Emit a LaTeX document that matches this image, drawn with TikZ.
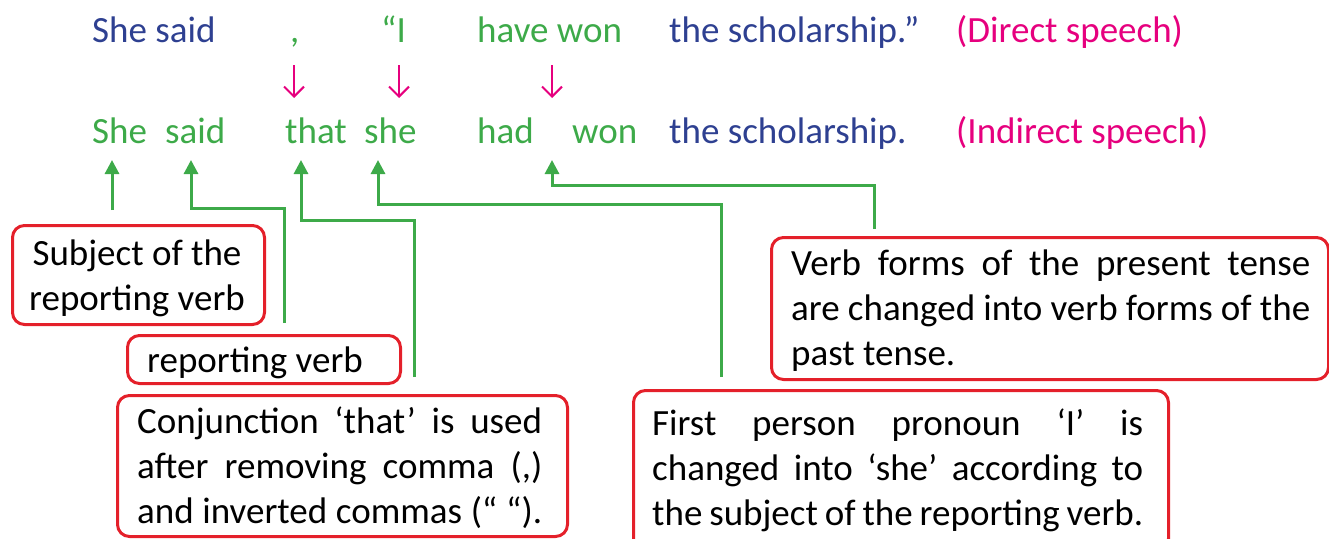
\documentclass[tikz,border=0pt]{standalone}
\usepackage{fontspec}
\setmainfont{Carlito}
\usetikzlibrary{arrows.meta}
\definecolor{dblue}{RGB}{46,64,145}
\definecolor{wgreen}{RGB}{61,170,73}
\definecolor{mpink}{RGB}{230,0,126}
\definecolor{bred}{RGB}{228,32,42}
\begin{document}
\begin{tikzpicture}[x=1pt,y=-1pt,
  font=\fontsize{37}{45}\selectfont,
  word/.style={anchor=base west, inner sep=0pt},
  txt/.style={anchor=base west, inner sep=0pt, text=black},
  garrow/.style={draw=wgreen, line width=3pt, -{Triangle[length=14pt,width=14pt]}},
  parrow/.style={draw=mpink, line width=2pt, -{Straight Barb[length=10pt,width=20pt,line width=2pt]}},
  rbox/.style={draw=bred, line width=3pt, rounded corners=12pt, anchor=north west, inner sep=0pt}]
\useasboundingbox (0,0) rectangle (1329,538);
% direct speech row
\node[word, text=dblue]  (d1) at (92,42)  {She said};
\node[word, text=wgreen] (d2) at (290,42) {,};
\node[word, text=wgreen] (d3) at (381,42) {“I};
\node[word, text=wgreen] (d4) at (477,42) {have won};
\node[word, text=dblue]  (d5) at (669,42) {the scholarship.”};
\node[word, text=mpink]  (d6) at (956,42) {(Direct speech)};
% indirect speech row
\node[word, text=wgreen] (i1) at (92,143)  {She};
\node[word, text=wgreen] (i2) at (165,143) {said};
\node[word, text=wgreen] (i3) at (285,143) {that};
\node[word, text=wgreen] (i4) at (364,143) {she};
\node[word, text=wgreen] (i5) at (477,143) {had};
\node[word, text=wgreen] (i6) at (572,143) {won};
\node[word, text=dblue]  (i7) at (669,143) {the scholarship.};
\node[word, text=mpink]  (i8) at (956,143) {(Indirect speech)};
% pink arrows
\coordinate (pa1) at (294,65); \coordinate (pb1) at (294,98);
\coordinate (pa2) at (399,65); \coordinate (pb2) at (399,98);
\coordinate (pa3) at (552,65); \coordinate (pb3) at (552,98);
\draw[parrow] (pa1) -- (pb1);
\draw[parrow] (pa2) -- (pb2);
\draw[parrow] (pa3) -- (pb3);
% boxes
\node[rbox, minimum width=252pt, minimum height=99pt]  (b1) at (11,224) {};
\node[rbox, minimum width=273pt, minimum height=48pt]  (b2) at (126,334) {};
\node[rbox, minimum width=450pt, minimum height=141pt] (b3) at (116,394) {};
\node[rbox, minimum width=557pt, minimum height=142pt] (b4) at (770,236) {};
\node[rbox, minimum width=535pt, minimum height=160pt] (b5) at (632,389) {};
% box texts
\node[txt, anchor=base] (x1) at (137,265) {\parbox[t]{260pt}{\centering Subject of the\\reporting verb}};
\node[txt] (x2) at (147,372) {reporting verb};
\node[txt] (x3) at (137,433) {\parbox[t]{405pt}{\makebox[405pt][s]{Conjunction ‘that’ is used}\par\makebox[405pt][s]{after removing comma (,)}\par\makebox[405pt][s]{and inverted commas (“ “).}}};
\node[txt] (x4) at (791,275) {\parbox[t]{519pt}{\makebox[519pt][s]{Verb forms of the present tense}\par\makebox[519pt][s]{are changed into verb forms of the}\par past tense.}};
\node[txt] (x5) at (652,435) {\parbox[t]{491pt}{\makebox[491pt][s]{First person pronoun ‘I’ is}\par\makebox[491pt][s]{changed into ‘she’ according to}\par\makebox[491pt][s]{the subject of the reporting verb.}}};
% green connectors
\coordinate (s1) at (112,210); \coordinate (t1) at (112,160);
\coordinate (s2) at (284,323); \coordinate (k2) at (191,208); \coordinate (t2) at (191,160);
\coordinate (s3) at (414,377); \coordinate (k3) at (301,220); \coordinate (t3) at (301,160);
\coordinate (s4) at (721,377); \coordinate (k4) at (378,204); \coordinate (t4) at (378,160);
\coordinate (s5) at (874,229); \coordinate (k5) at (552,185); \coordinate (t5) at (552,160);
\draw[garrow] (s1) -- (t1);
\draw[garrow] (s2) |- (k2) -- (t2);
\draw[garrow] (s3) |- (k3) -- (t3);
\draw[garrow] (s4) |- (k4) -- (t4);
\draw[garrow] (s5) |- (k5) -- (t5);
\end{tikzpicture}
\end{document}
